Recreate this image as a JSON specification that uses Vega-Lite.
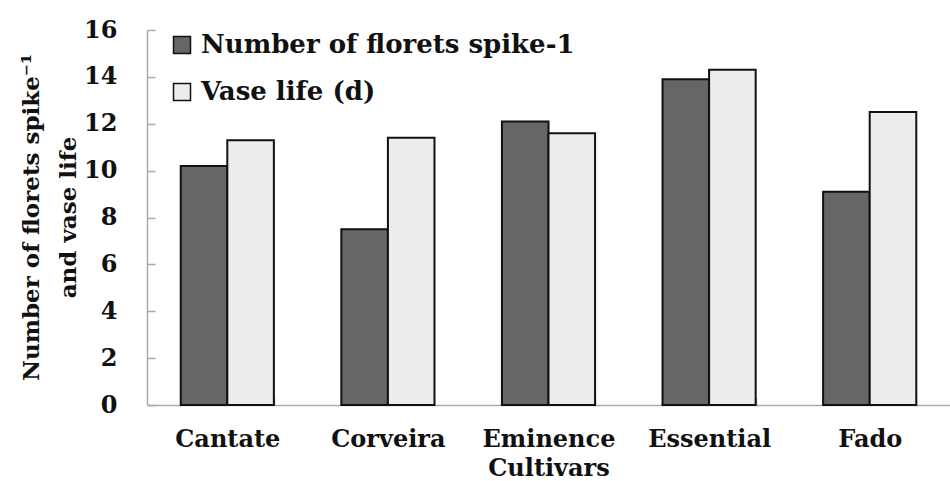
{
  "$schema": "https://vega.github.io/schema/vega-lite/v6.json",
  "width": 803,
  "height": 375,
  "autosize": "none",
  "padding": {"left": 147, "top": 30, "right": 0, "bottom": 76},
  "background": "white",
  "config": {
    "view": {"stroke": null},
    "font": "DejaVu Serif"
  },
  "data": {
    "values": [
      {"cultivar": "Cantate", "measure": "Number of florets spike-1", "value": 10.2},
      {"cultivar": "Cantate", "measure": "Vase life (d)", "value": 11.3},
      {"cultivar": "Corveira", "measure": "Number of florets spike-1", "value": 7.5},
      {"cultivar": "Corveira", "measure": "Vase life (d)", "value": 11.4},
      {"cultivar": "Eminence", "measure": "Number of florets spike-1", "value": 12.1},
      {"cultivar": "Eminence", "measure": "Vase life (d)", "value": 11.6},
      {"cultivar": "Essential", "measure": "Number of florets spike-1", "value": 13.9},
      {"cultivar": "Essential", "measure": "Vase life (d)", "value": 14.3},
      {"cultivar": "Fado", "measure": "Number of florets spike-1", "value": 9.1},
      {"cultivar": "Fado", "measure": "Vase life (d)", "value": 12.5}
    ]
  },
  "mark": {"type": "bar", "stroke": "#111111", "strokeWidth": 2},
  "encoding": {
    "x": {
      "field": "cultivar",
      "type": "nominal",
      "sort": null,
      "scale": {"paddingInner": 0.42, "paddingOuter": 0.21},
      "axis": {
        "title": "Cultivars",
        "titleFont": "DejaVu Serif",
        "titleFontSize": 24,
        "titleFontWeight": "bold",
        "titleColor": "#111111",
        "titlePadding": 5,
        "labelAngle": 0,
        "labelFont": "DejaVu Serif",
        "labelFontSize": 24,
        "labelFontWeight": "bold",
        "labelColor": "#111111",
        "labelPadding": 29,
        "domainColor": "#aaaaaa",
        "domainWidth": 1.5,
        "tickBand": "extent",
        "tickSize": -7,
        "tickColor": "#aaaaaa",
        "tickWidth": 1.5
      }
    },
    "xOffset": {"field": "measure", "type": "nominal", "sort": null},
    "y": {
      "field": "value",
      "type": "quantitative",
      "scale": {"domain": [0, 16], "nice": false},
      "axis": {
        "title": ["Number of florets spike⁻¹", "and vase life"],
        "titleFont": "DejaVu Serif",
        "titleFontSize": 23,
        "titleFontWeight": "bold",
        "titleColor": "#111111",
        "titleAngle": -90,
        "titleAlign": "center",
        "titleBaseline": "top",
        "titleLineHeight": 37,
        "titleX": -127,
        "titleY": 187,
        "values": [0, 2, 4, 6, 8, 10, 12, 14, 16],
        "labelFont": "DejaVu Serif",
        "labelFontSize": 24,
        "labelFontWeight": "bold",
        "labelColor": "#111111",
        "labelPadding": 38,
        "grid": false,
        "domainColor": "#aaaaaa",
        "domainWidth": 1.5,
        "tickSize": -8,
        "tickColor": "#aaaaaa",
        "tickWidth": 1.5
      }
    },
    "fill": {
      "field": "measure",
      "type": "nominal",
      "sort": null,
      "scale": {"range": ["#666666", "#ececec"]},
      "legend": {
        "title": null,
        "orient": "none",
        "legendX": 22,
        "legendY": 2,
        "symbolType": "square",
        "symbolSize": 289,
        "symbolStrokeColor": "#111111",
        "symbolStrokeWidth": 1.5,
        "labelFont": "DejaVu Serif",
        "labelFontSize": 26,
        "labelFontWeight": "bold",
        "labelColor": "#111111",
        "labelOffset": 6,
        "rowPadding": 21,
        "labelLimit": 600
      }
    }
  }
}
